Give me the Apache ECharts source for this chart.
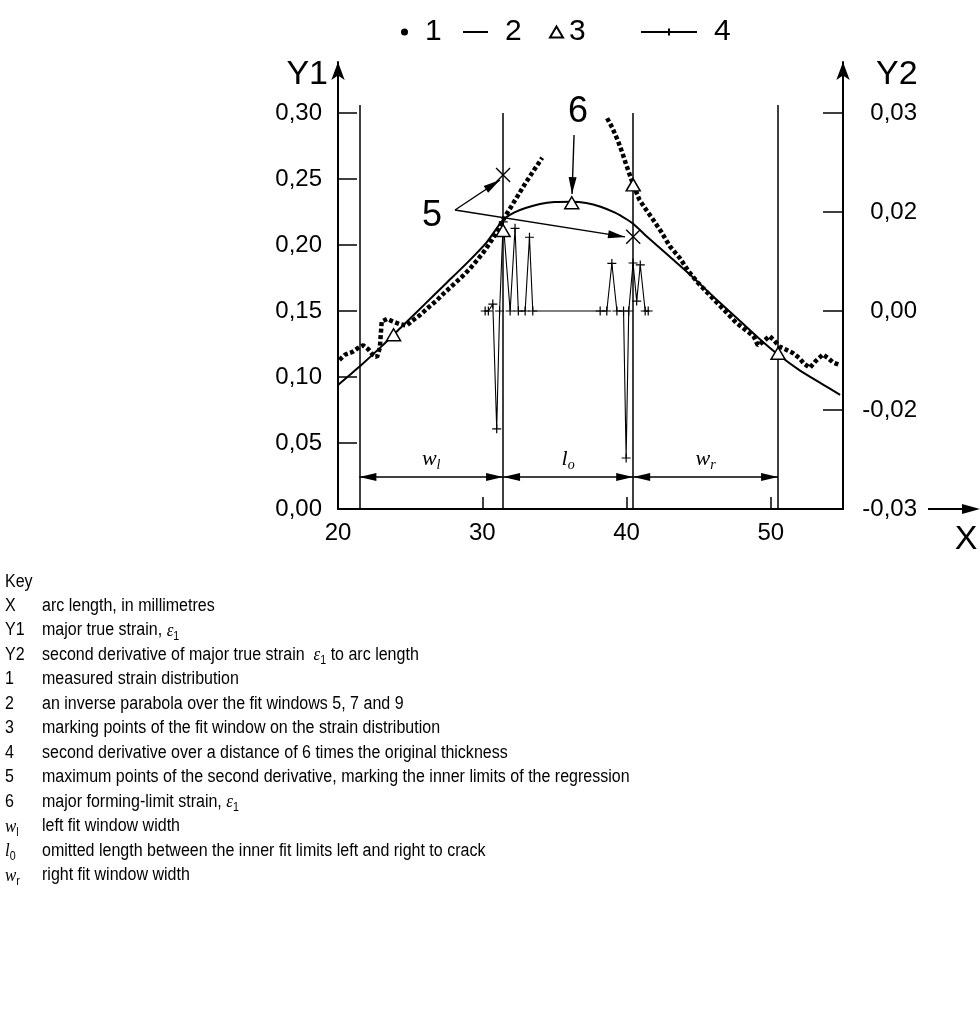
<!DOCTYPE html>
<html><head><meta charset="utf-8">
<script src="https://cdn.jsdelivr.net/npm/echarts@6/dist/echarts.min.js"></script>
<style>html,body{margin:0;padding:0;background:#fff}#c{width:980px;height:1013px}</style>
</head><body><div id="c"></div>
<script>
const FONT = 'Liberation Sans, Arial, Helvetica, sans-serif';
const SERIF = 'Liberation Serif, Times New Roman, serif';

// ---- axes / ticks ----
const xTickValues = [20, 30, 40, 50];
const xTickLabels = ['20', '30', '40', '50'];
const xMinorTicks = [30, 40, 50];
const y1TickValues = [0, 0.05, 0.10, 0.15, 0.20, 0.25, 0.30];
const y1TickLabels = ['0,00', '0,05', '0,10', '0,15', '0,20', '0,25', '0,30'];
const y2TickValues = [-0.04, -0.02, 0, 0.02, 0.04];
const y2TickLabels = ['-0,03', '-0,02', '0,00', '0,02', '0,03'];

// ---- 1: measured strain distribution (Y1) ----
const measuredLeftX = [20.1, 20.5, 21.0, 21.4, 21.75, 22.1, 22.4, 22.7, 22.9, 23.03, 23.4, 23.8, 24.3, 24.76, 25.2, 25.7, 26.3, 26.84, 27.4, 28.0, 28.6, 29.15, 29.6, 30.05, 30.5, 30.9, 31.3, 31.6, 32.0, 32.5, 33.0, 33.6, 34.15];
const measuredLeftY = [0.113, 0.117, 0.119, 0.122, 0.124, 0.121, 0.117, 0.115, 0.122, 0.142, 0.144, 0.142, 0.140, 0.139, 0.143, 0.147, 0.153, 0.158, 0.164, 0.170, 0.176, 0.182, 0.188, 0.194, 0.201, 0.208, 0.216, 0.222, 0.229, 0.238, 0.247, 0.257, 0.266];
const measuredRightX = [38.65, 39.0, 39.4, 39.7, 40.0, 40.45, 40.9, 41.4, 41.85, 42.4, 43.0, 43.7, 44.3, 44.9, 45.5, 46.2, 47.0, 47.6, 48.2, 48.8, 49.1, 49.5, 49.9, 50.2, 50.6, 51.0, 51.55, 52.0, 52.3, 52.7, 53.1, 53.6, 54.0, 54.3, 54.8];
const measuredRightY = [0.296, 0.289, 0.279, 0.270, 0.260, 0.246, 0.234, 0.226, 0.219, 0.210, 0.199, 0.190, 0.180, 0.172, 0.165, 0.157, 0.148, 0.141, 0.136, 0.131, 0.124, 0.127, 0.131, 0.128, 0.123, 0.121, 0.118, 0.114, 0.110, 0.107, 0.112, 0.117, 0.114, 0.111, 0.109];

// ---- 2: inverse parabola fit (Y1) ----
const fitX = [20, 21.5, 23, 24.5, 26, 27.5, 29, 30.3, 31.44, 32.2, 33, 34, 35, 36.2, 37.2, 38.2, 39.2, 40.0, 40.46, 41.5, 43, 44.5, 46, 47.9, 49.2, 50.5, 52, 53.5, 54.8];
const fitY = [0.094, 0.108, 0.123, 0.139, 0.155, 0.171, 0.187, 0.202, 0.219, 0.2245, 0.228, 0.231, 0.2325, 0.2328, 0.2318, 0.229, 0.2245, 0.2195, 0.216, 0.2055, 0.191, 0.1765, 0.161, 0.142, 0.129, 0.117, 0.105, 0.095, 0.0865];

// ---- 3: marking points of the fit window (Y1) ----
const markX = [23.85, 31.44, 36.2, 40.46, 50.5];
const markY = [0.132, 0.211, 0.232, 0.2455, 0.118];

// ---- 4: second derivative (Y2) ----
const derivX = [30.2, 30.42, 30.73, 31.0, 31.2, 31.45, 31.93, 32.27, 32.5, 32.97, 33.27, 33.5, 38.17, 38.63, 38.98, 39.33, 39.79, 39.97, 40.15, 40.45, 40.7, 40.95, 41.29, 41.5];
const derivY = [0, 0, 0.0014, -0.0238, 0, 0.018, 0, 0.0167, 0, 0, 0.0149, 0, 0, 0, 0.0096, 0, 0, -0.0297, 0, 0.0097, 0.002, 0.0093, 0, 0];

// ---- 5: maximum points of the second derivative (Y1 position) ----
const maxPtX = [31.44, 40.46];
const maxPtY = [0.253, 0.2063];

// ---- fit window limits ----
const limitX = [21.48, 31.44, 40.46, 50.5];
const limitTop = [0.306, 0.300, 0.300, 0.306];
const dimY = 0.0242;
const dimLabels = ['{i|w}{s|l}', '{i|l}{s|o}', '{i|w}{s|r}'];

// ---- annotations ----
const note5Pos = [26.52, 0.222];
const note5Start = [28.11, 0.2265];
const note5Tips = [[31.23, 0.2492], [39.89, 0.2061]];
const note6Pos = [36.64, 0.3008];
const note6Start = [36.36, 0.2833];
const note6Tip = [36.22, 0.2386];

// ---- key ----
const keySymbols = ['X', 'Y1', 'Y2', '1', '2', '3', '4', '5', '6', '{i|w}{s|l}', '{i|l}{s|0}', '{i|w}{s|r}'];
const keyTexts = [
  'arc length, in millimetres',
  'major true strain, {e|ε}{s|1}',
  'second derivative of major true strain  {e|ε}{s|1} to arc length',
  'measured strain distribution',
  'an inverse parabola over the fit windows 5, 7 and 9',
  'marking points of the fit window on the strain distribution',
  'second derivative over a distance of 6 times the original thickness',
  'maximum points of the second derivative, marking the inner limits of the regression',
  'major forming-limit strain, {e|ε}{s|1}',
  'left fit window width',
  'omitted length between the inner fit limits left and right to crack',
  'right fit window width'
];

const zip = (xs, ys) => xs.map((x, i) => [x, ys[i]]);
const plusPath = 'path://M5,0L5,10M0,5L10,5';
const crossPath = 'path://M0,0L10,10M10,0L0,10';
const arrowMarkLine = (pairs) => ({
  silent: true, animation: false,
  symbol: ['none', 'triangle'], symbolSize: [8, 17], symbolOffset: [0, [0, 8.5]],
  lineStyle: { color: '#000', width: 1.4, type: 'solid' },
  itemStyle: { color: '#000' },
  label: { show: false }, emphasis: { disabled: true },
  data: pairs
});

const chart = echarts.init(document.getElementById('c'), null, { renderer: 'canvas' });

const KEYFONT = '18px ' + FONT;
const KEYSCALE = 0.89;
const keyRich = {
  e: { fontFamily: SERIF, fontStyle: 'italic', fontSize: 19, fill: '#000' },
  i: { fontFamily: SERIF, fontStyle: 'italic', fontSize: 19, fill: '#000' },
  s: { fontFamily: FONT, fontSize: 12, padding: [12, 0, 0, 0], fill: '#000' }
};
const keyGraphics = [{
  type: 'text', x: 5, y: 582, scaleX: KEYSCALE,
  style: { text: 'Key', font: KEYFONT, fill: '#000', verticalAlign: 'middle' }
}];
keySymbols.forEach((s, i) => {
  const y = 606 + i * 24.5;
  keyGraphics.push({ type: 'text', x: 5, y: y, scaleX: KEYSCALE, style: { text: s, font: KEYFONT, fill: '#000', verticalAlign: 'middle', rich: keyRich } });
  keyGraphics.push({ type: 'text', x: 42, y: y, scaleX: KEYSCALE, style: { text: keyTexts[i], font: KEYFONT, fill: '#000', verticalAlign: 'middle', rich: keyRich } });
});
// arrow at the end of the X axis
keyGraphics.push({ type: 'line', shape: { x1: 928, y1: 509, x2: 966, y2: 509 }, style: { stroke: '#000', lineWidth: 2 } });
keyGraphics.push({ type: 'polygon', shape: { points: [[980, 509], [962, 504], [962, 514]] }, style: { fill: '#000' } });

const legendText = { fontSize: 30, fontFamily: FONT, color: '#000' };

const option = {
  animation: false,
  backgroundColor: '#fff',
  textStyle: { fontFamily: FONT, color: '#000' },
  grid: { left: 338, right: 137, top: 62, bottom: 504, containLabel: false },
  legend: [
    { data: [{ name: '1', icon: 'circle', itemStyle: { color: '#000' } }], left: 396, top: 12, itemWidth: 7, itemHeight: 7, selectedMode: false, textStyle: Object.assign({ padding: [0, 0, 0, 12] }, legendText) },
    { data: [{ name: '2', icon: 'rect', itemStyle: { color: '#000' } }], left: 458, top: 12, itemWidth: 25, itemHeight: 2, selectedMode: false, textStyle: Object.assign({ padding: [0, 0, 0, 12] }, legendText) },
    { data: ['3'], left: 544, top: 12, itemWidth: 13, itemHeight: 11, selectedMode: false, textStyle: Object.assign({ padding: [0, 0, 0, 1] }, legendText) },
    { data: ['4'], left: 635, top: 12, itemWidth: 56, itemHeight: 9, selectedMode: false, textStyle: Object.assign({ padding: [0, 0, 0, 12] }, legendText) }
  ],
  xAxis: {
    type: 'value', min: 20, max: 55,
    name: 'X', nameLocation: 'end', nameGap: 123,
    nameTextStyle: { fontSize: 34, fontFamily: FONT, color: '#000', align: 'center', verticalAlign: 'top', padding: [14, 0, 0, 0] },
    axisLine: { show: true, onZero: false, lineStyle: { color: '#000', width: 2 } },
    axisTick: { show: true, inside: true, length: 12, customValues: xMinorTicks, lineStyle: { color: '#000', width: 1.5 } },
    axisLabel: { customValues: xTickValues, formatter: v => xTickLabels[xTickValues.indexOf(v)], fontSize: 24, color: '#000', margin: 12 },
    splitLine: { show: false }
  },
  yAxis: [
    {
      type: 'value', min: 0, max: 0.3386, position: 'left',
      name: 'Y1', nameLocation: 'end', nameGap: -13,
      nameTextStyle: { fontSize: 34, fontFamily: FONT, color: '#000', align: 'right', verticalAlign: 'middle', padding: [0, 10, 0, 0] },
      axisLine: { show: true, onZero: false, symbol: ['none', 'arrow'], symbolSize: [10, 18], lineStyle: { color: '#000', width: 2 } },
      axisTick: { show: true, inside: true, length: 19, customValues: y1TickValues, lineStyle: { color: '#000', width: 1.5 } },
      axisLabel: { customValues: y1TickValues, formatter: v => y1TickLabels[y1TickValues.findIndex(t => Math.abs(t - v) < 1e-9)], fontSize: 24, color: '#000', margin: 16 },
      splitLine: { show: false }
    },
    {
      type: 'value', min: -0.04, max: 0.0503, position: 'right',
      name: 'Y2', nameLocation: 'end', nameGap: -13,
      nameTextStyle: { fontSize: 34, fontFamily: FONT, color: '#000', align: 'left', verticalAlign: 'middle', padding: [0, 0, 0, 33] },
      axisLine: { show: true, onZero: false, symbol: ['none', 'arrow'], symbolSize: [10, 18], lineStyle: { color: '#000', width: 2 } },
      axisTick: { show: true, inside: true, length: 20, customValues: y2TickValues, lineStyle: { color: '#000', width: 1.5 } },
      axisLabel: { customValues: y2TickValues, formatter: v => y2TickLabels[y2TickValues.findIndex(t => Math.abs(t - v) < 1e-9)], fontSize: 24, color: '#000', margin: 74, align: 'right' },
      splitLine: { show: false }
    }
  ],
  series: [
    {
      name: '1', type: 'line', yAxisIndex: 0, data: zip(measuredLeftX, measuredLeftY),
      symbol: 'none', z: 2, itemStyle: { color: '#000' },
      lineStyle: { color: '#000', width: 4.5, type: [4, 2.5], cap: 'butt' }
    },
    {
      name: '1', type: 'line', yAxisIndex: 0, data: zip(measuredRightX, measuredRightY),
      symbol: 'none', z: 2, itemStyle: { color: '#000' },
      lineStyle: { color: '#000', width: 4.5, type: [4, 2.5], cap: 'butt' }
    },
    {
      name: '2', type: 'line', yAxisIndex: 0, data: zip(fitX, fitY), smooth: 0.2,
      symbol: 'none', z: 3, itemStyle: { color: '#000' },
      lineStyle: { color: '#000', width: 2 },
      markLine: {
        silent: true, animation: false,
        symbol: ['none', 'none'],
        lineStyle: { color: '#000', width: 1.5, type: 'solid' },
        label: { show: false }, emphasis: { disabled: true },
        data: limitX.map((x, i) => [{ coord: [x, 0] }, { coord: [x, limitTop[i]] }])
          .concat([0, 1, 2].map(i => [
            {
              coord: [limitX[i], dimY], symbol: 'triangle', symbolSize: [8, 17], symbolOffset: [0, 8.5],
              label: {
                show: true, position: 'insideMiddleTop', distance: 5, formatter: dimLabels[i],
                rich: {
                  i: { fontFamily: SERIF, fontStyle: 'italic', fontSize: 22, color: '#000' },
                  s: { fontFamily: SERIF, fontStyle: 'italic', fontSize: 14, color: '#000', padding: [12, 0, 0, 0] }
                }
              }
            },
            { coord: [limitX[i + 1], dimY], symbol: 'triangle', symbolSize: [8, 17], symbolOffset: [0, 8.5] }
          ]))
      }
    },
    {
      name: '3', type: 'scatter', yAxisIndex: 0, data: zip(markX, markY),
      symbol: 'triangle', symbolSize: [14, 12], z: 6,
      itemStyle: { color: '#fff', borderColor: '#000', borderWidth: 1.5, opacity: 1 },
      markPoint: {
        silent: true, symbol: 'circle', symbolSize: 1, itemStyle: { color: 'rgba(0,0,0,0)' },
        label: { show: true, position: 'inside', fontSize: 36, color: '#000', formatter: '6' },
        data: [{ coord: note6Pos }]
      },
      markLine: arrowMarkLine([[{ coord: note6Start }, { coord: note6Tip }]])
    },
    {
      name: '4', type: 'line', yAxisIndex: 1, data: zip(derivX, derivY),
      symbol: plusPath, symbolSize: 9, showAllSymbol: true, z: 4,
      itemStyle: { color: 'none', borderColor: '#000', borderWidth: 1.2 },
      lineStyle: { color: '#000', width: 1.1 }
    },
    {
      name: '5', type: 'scatter', yAxisIndex: 0, data: zip(maxPtX, maxPtY),
      symbol: crossPath, symbolSize: 14, z: 6,
      itemStyle: { color: 'none', borderColor: '#000', borderWidth: 1.4, opacity: 1 },
      markPoint: {
        silent: true, symbol: 'circle', symbolSize: 1, itemStyle: { color: 'rgba(0,0,0,0)' },
        label: { show: true, position: 'inside', fontSize: 36, color: '#000', formatter: '5' },
        data: [{ coord: note5Pos }]
      },
      markLine: arrowMarkLine(note5Tips.map(t => [{ coord: note5Start }, { coord: t }]))
    }
  ],
  graphic: { elements: keyGraphics }
};
chart.setOption(option);
</script>
</body></html>
